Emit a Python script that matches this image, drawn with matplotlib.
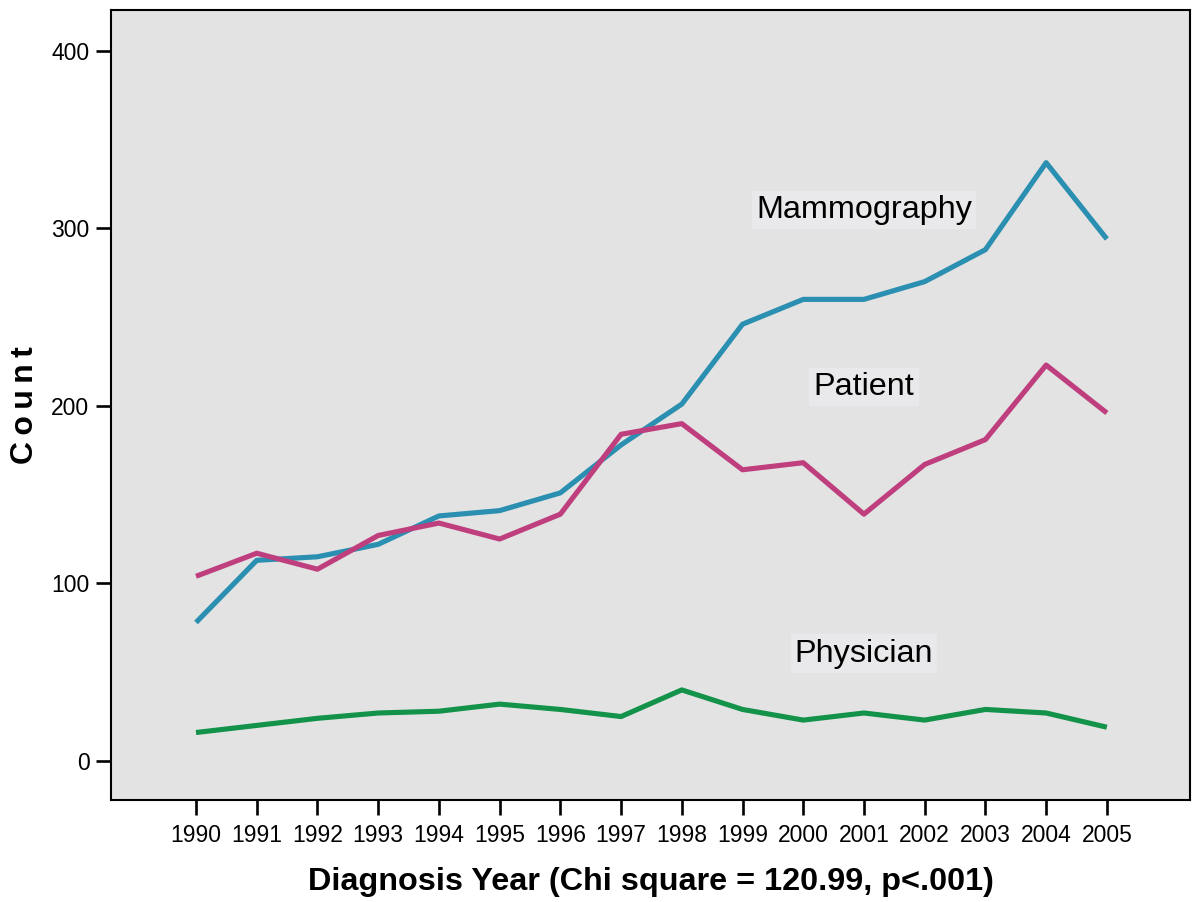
import matplotlib.pyplot as plt

plt.rcParams['font.family'] = ['Liberation Sans', 'DejaVu Sans']

years = list(range(1990, 2006))
mammography = [78, 113, 115, 122, 138, 141, 151, 178, 201, 246, 260, 260, 270, 288, 337, 294]
patient = [104, 117, 108, 127, 134, 125, 139, 184, 190, 164, 168, 139, 167, 181, 223, 196]
physician = [16, 20, 24, 27, 28, 32, 29, 25, 40, 29, 23, 27, 23, 29, 27, 19]

series = [
    ("Mammography", mammography, "#2a8fb0", 310.5),
    ("Patient", patient, "#bf3f7e", 210.5),
    ("Physician", physician, "#13924a", 60.5),
]

fig = plt.figure(figsize=(12, 9.02), dpi=100)
ax = fig.add_axes([0.0925, 0.1131, 0.8992, 0.8758])
ax.set_facecolor("#e3e3e3")

for name, vals, color, label_y in series:
    ax.plot(years, vals, color=color, linewidth=3.7, solid_capstyle="butt")
    ax.text(2001.0, label_y, name, fontsize=23.3, ha="center", va="center",
            bbox=dict(facecolor="#e9e9eb", edgecolor="none", pad=3))

ax.set_xlim(1988.6, 2006.37)
ax.set_ylim(-22, 423)
ax.set_xticks(years)
ax.set_yticks([0, 100, 200, 300, 400])
ax.tick_params(axis="both", direction="out", length=10.5, width=1.9, labelsize=16.5, pad=5)
ax.tick_params(axis="x", pad=7)

for sp in ax.spines.values():
    sp.set_linewidth(1.5)

ax.set_xlabel("Diagnosis Year (Chi square = 120.99, p<.001)", fontsize=23.3, fontweight="bold", labelpad=14)
ax.set_ylabel("C\u2009o\u2009u\u2009n\u2009t", fontsize=23, fontweight="bold", labelpad=8)

fig.savefig("out.png", dpi=100)
